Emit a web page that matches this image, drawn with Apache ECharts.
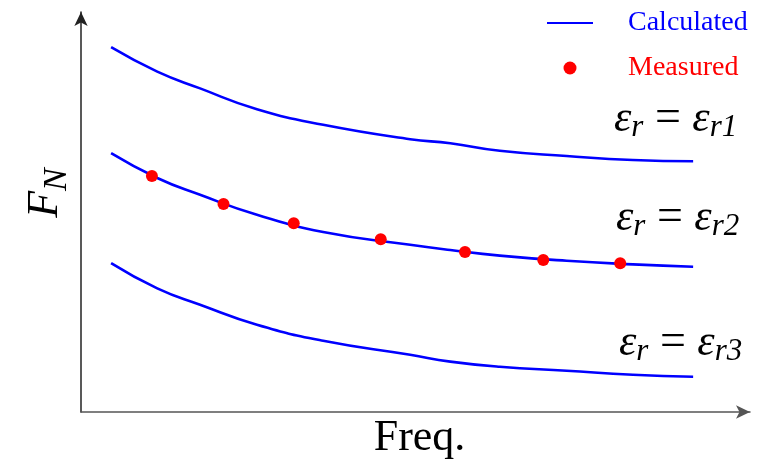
<!DOCTYPE html>
<html>
<head>
<meta charset="utf-8">
<script src="https://cdn.jsdelivr.net/npm/echarts@6/dist/echarts.min.js"></script>
<style>
  html, body { margin: 0; padding: 0; background: #fff; }
  #chart { width: 766px; height: 463px; }
</style>
</head>
<body>
<div id="chart"></div>
<script>
// normalised frequency / F_N values
var freq = [4.5, 11.4, 17.8, 26.3, 36.2, 49.2, 55.2, 62.6, 72.6, 82.5, 91.5];
var fnCalc1 = [91.2, 85.1, 80.9, 75.7, 71.8, 68.2, 67.2, 65.3, 64.0, 63.0, 62.7];
var fnCalc2 = [64.7, 58.5, 54.3, 49.3, 45.0, 41.8, 40.5, 39.1, 37.8, 36.9, 36.3];
var fnCalc3 = [37.2, 30.9, 26.8, 21.8, 17.8, 14.3, 12.6, 11.3, 10.3, 9.3, 8.8];
var freqMeas = [10.6, 21.3, 31.8, 44.8, 57.4, 69.1, 80.6];
var fnMeas = [59.0, 52.0, 47.2, 43.2, 40.0, 38.0, 37.2];
var curveLabels = ['1', '2', '3'];

var serif = 'Liberation Serif';
var chart = echarts.init(document.getElementById('chart'));

function pairs(xs, ys) {
    return xs.map(function (x, i) { return [x, ys[i]]; });
}

function calcSeries(ys) {
    return {
        name: 'Calculated',
        type: 'line',
        smooth: true,
        symbol: 'none',
        data: pairs(freq, ys),
        lineStyle: { color: '#0000ff', width: 2.6 },
        itemStyle: { color: '#0000ff' },
        z: 2
    };
}

// 曲线标注 ε_r = ε_rN
var epsRich = {
    e: { fontFamily: serif, fontStyle: 'italic', fontSize: 44, color: '#000' },
    s: { fontFamily: serif, fontStyle: 'italic', fontSize: 31, color: '#000', padding: [18, 0, 0, 0] },
    q: { fontFamily: serif, fontSize: 46, color: '#000' }
};
var labelPos = [[614, 96], [616, 195], [619, 320]];

var option = {
    backgroundColor: '#fff',
    animation: false,
    grid: { left: 81, right: 16, top: 12, bottom: 51, outerBoundsMode: 'none' },
    legend: {
        orient: 'vertical',
        left: 541,
        top: 4,
        itemWidth: 46,
        itemHeight: 13,
        itemGap: 17,
        data: [
            { name: 'Calculated', textStyle: { color: '#0000ff' }, itemStyle: { color: 'rgba(0,0,0,0)', borderWidth: 0 } },
            { name: 'Measured', textStyle: { color: '#ff0000' } }
        ],
        textStyle: { fontFamily: serif, fontSize: 28, padding: [0, 0, 0, 30] }
    },
    xAxis: {
        type: 'value',
        min: 0,
        max: 100,
        name: 'Freq.',
        nameLocation: 'middle',
        nameGap: 4,
        nameTextStyle: { fontFamily: serif, fontSize: 44, color: '#000', verticalAlign: 'top', padding: [0, 0, 0, 8] },
        axisLine: { lineStyle: { color: '#555', width: 1.5 }, symbol: ['none', 'arrow'], symbolSize: [10, 14] },
        axisTick: { show: false },
        axisLabel: { show: false },
        splitLine: { show: false }
    },
    yAxis: {
        type: 'value',
        min: 0,
        max: 100,
        name: '{f|F}{n|N}',
        nameLocation: 'middle',
        nameGap: 7,
        nameTextStyle: {
            padding: [0, 0, 0, 38],
            rich: {
                f: { fontFamily: serif, fontStyle: 'italic', fontSize: 44, color: '#000' },
                n: { fontFamily: serif, fontStyle: 'italic', fontSize: 34, color: '#000', padding: [24, 0, 0, 0] }
            }
        },
        axisLine: { lineStyle: { color: '#222', width: 1.5 }, symbol: ['none', 'arrow'], symbolSize: [10, 14] },
        axisTick: { show: false },
        axisLabel: { show: false },
        splitLine: { show: false }
    },
    graphic: curveLabels.map(function (k, i) {
        return {
            type: 'text',
            left: labelPos[i][0],
            top: labelPos[i][1],
            style: {
                text: '{e|ε}{s|r}{q| = }{e|ε}{s|r' + k + '}',
                rich: epsRich
            }
        };
    }),
    series: [
        calcSeries(fnCalc1),
        calcSeries(fnCalc2),
        calcSeries(fnCalc3),
        {
            name: 'Measured',
            type: 'scatter',
            symbol: 'circle',
            symbolSize: 12,
            data: pairs(freqMeas, fnMeas),
            itemStyle: { color: '#ff0000', opacity: 1 },
            z: 3
        }
    ]
};

chart.setOption(option);
</script>
</body>
</html>
